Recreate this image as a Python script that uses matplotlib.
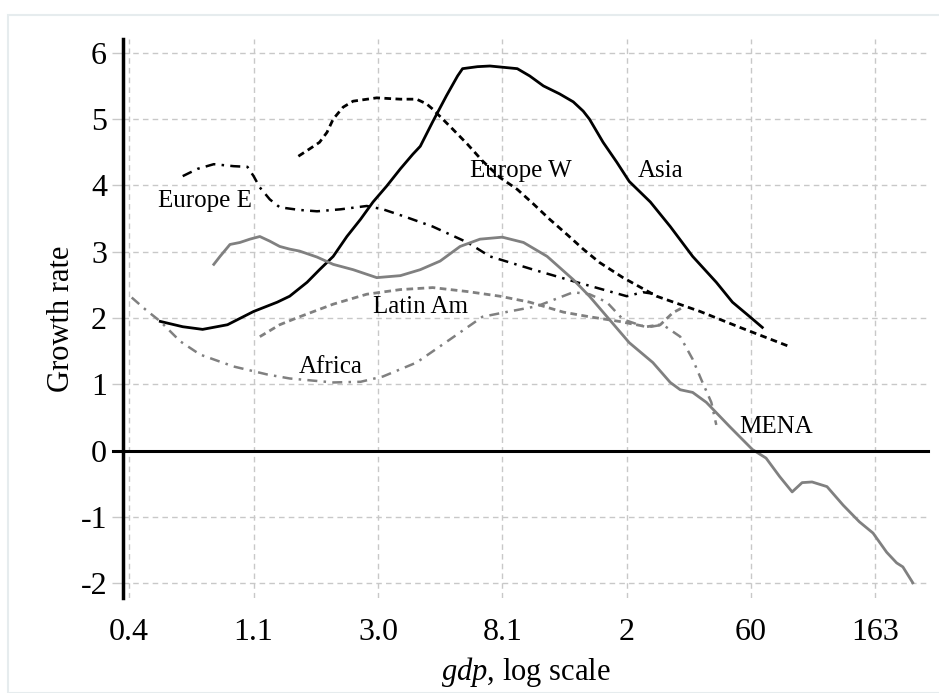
import matplotlib.pyplot as plt
from matplotlib.patches import Rectangle

# x is position on the log-gdp axis (one unit per tick), y is growth rate
asia_x = [0.25, 0.43, 0.59, 0.79, 1.00, 1.19, 1.29, 1.43, 1.53, 1.64, 1.75, 1.86,
          1.96, 2.07, 2.18, 2.28, 2.34, 2.44, 2.55, 2.64, 2.68, 2.80, 2.90, 3.12,
          3.22, 3.33, 3.46, 3.57, 3.65, 3.70, 3.81, 3.92, 4.02, 4.19, 4.35, 4.53,
          4.72, 4.85, 4.99, 5.09]
asia_y = [1.95, 1.87, 1.83, 1.90, 2.10, 2.24, 2.33, 2.54, 2.73, 2.93, 3.23, 3.49,
          3.75, 3.99, 4.25, 4.47, 4.59, 4.96, 5.35, 5.65, 5.76, 5.79, 5.80, 5.76,
          5.65, 5.50, 5.38, 5.26, 5.12, 5.00, 4.65, 4.35, 4.06, 3.75, 3.38, 2.93,
          2.54, 2.24, 2.02, 1.86]

eurw_x = [1.36, 1.45, 1.53, 1.59, 1.64, 1.72, 1.80, 1.99, 2.18, 2.31, 2.39, 2.44,
          2.52, 2.60, 2.72, 2.84, 2.98, 3.12, 3.25, 3.38, 3.52, 3.65, 3.78, 3.97,
          4.24, 4.59, 4.91, 5.31]
eurw_y = [4.44, 4.55, 4.65, 4.80, 5.00, 5.18, 5.27, 5.32, 5.30, 5.30, 5.23, 5.15,
          5.00, 4.85, 4.62, 4.37, 4.12, 3.94, 3.72, 3.49, 3.26, 3.04, 2.84, 2.61,
          2.33, 2.10, 1.86, 1.57]

eure_x = [0.43, 0.55, 0.68, 0.84, 0.95, 1.00, 1.05, 1.13, 1.21, 1.37, 1.51, 1.70,
          1.91, 2.04, 2.23, 2.44, 2.72, 2.90, 3.25, 3.60, 4.00, 4.13, 4.24]
eure_y = [4.14, 4.25, 4.32, 4.29, 4.28, 4.14, 3.97, 3.79, 3.67, 3.63, 3.61, 3.64,
          3.69, 3.64, 3.52, 3.38, 3.14, 2.93, 2.73, 2.54, 2.33, 2.39, 2.36]

mena_x = [0.68, 0.73, 0.81, 0.89, 0.97, 1.05, 1.13, 1.21, 1.29, 1.37, 1.51, 1.64,
          1.80, 1.99, 2.18, 2.34, 2.50, 2.66, 2.82, 3.00, 3.17, 3.36, 3.57, 3.70,
          3.86, 4.02, 4.21, 4.35, 4.43, 4.53, 4.64, 4.83, 5.01, 5.12, 5.23, 5.33,
          5.41, 5.49, 5.61, 5.74, 5.87, 5.98, 6.09, 6.17, 6.22, 6.30]
mena_y = [2.81, 2.93, 3.11, 3.14, 3.19, 3.23, 3.16, 3.08, 3.04, 3.01, 2.92, 2.81,
          2.73, 2.61, 2.64, 2.73, 2.86, 3.08, 3.19, 3.22, 3.14, 2.93, 2.58, 2.33,
          1.98, 1.63, 1.33, 1.03, 0.92, 0.88, 0.73, 0.36, 0.02, -0.11, -0.39, -0.62,
          -0.48, -0.47, -0.54, -0.82, -1.07, -1.24, -1.53, -1.69, -1.75, -1.99]

latam_x = [1.05, 1.21, 1.37, 1.64, 1.91, 2.18, 2.44, 2.72, 2.98, 3.22, 3.49, 3.70,
           3.94, 4.16, 4.27, 4.37, 4.45]
latam_y = [1.72, 1.90, 2.02, 2.21, 2.36, 2.43, 2.46, 2.40, 2.33, 2.24, 2.09, 2.02,
           1.95, 1.87, 1.90, 2.08, 2.16]

africa_x = [0.02, 0.13, 0.25, 0.41, 0.57, 0.84, 1.11, 1.29, 1.64, 1.86, 2.04, 2.31,
            2.58, 2.84, 3.00, 3.28, 3.57, 3.70, 3.84, 3.97, 4.16, 4.29, 4.43, 4.53,
            4.60, 4.68, 4.72]
africa_y = [2.31, 2.13, 1.95, 1.65, 1.45, 1.27, 1.15, 1.09, 1.03, 1.04, 1.12, 1.33,
            1.68, 2.02, 2.08, 2.18, 2.39, 2.36, 2.24, 1.98, 1.86, 1.90, 1.72, 1.38,
            1.07, 0.73, 0.39]

xtick_labels = ['0.4', '1.1', '3.0', '8.1', '2', '60', '163']
yticks = [-2, -1, 0, 1, 2, 3, 4, 5, 6]

labels = ['Asia', 'Europe W', 'Europe E', 'Latin Am', 'Africa', 'MENA']
label_x = [4.27, 3.15, 0.61, 2.34, 1.62, 5.20]
label_y = [4.21, 4.21, 3.76, 2.16, 1.27, 0.36]

plt.rcParams['font.family'] = ['Liberation Serif', 'DejaVu Serif']
plt.rcParams['axes.unicode_minus'] = False
plt.rcParams['mathtext.fontset'] = 'custom'
plt.rcParams['mathtext.rm'] = 'Liberation Serif'
plt.rcParams['mathtext.it'] = 'Liberation Serif:italic'

fig = plt.figure(figsize=(9.39, 6.93), dpi=100)
fig.patches.append(Rectangle((8/939, 0.0), 1.0, 1 - 15/693, transform=fig.transFigure,
                             fill=False, edgecolor='#e6ecee', lw=1.5))
ax = fig.add_axes([0.131, 0.137, 0.857, 0.807])

grey = '#808080'
ax.plot(asia_x, asia_y, color='black', lw=2.0)
ax.plot(eurw_x, eurw_y, color='black', lw=2.0, dashes=(2.4, 1.6))
ax.plot(eure_x, eure_y, color='black', lw=1.8, dashes=(4, 2.5, 1, 2.5))
ax.plot(mena_x, mena_y, color=grey, lw=2.0)
ax.plot(latam_x, latam_y, color=grey, lw=2.0, dashes=(2.4, 1.6))
ax.plot(africa_x, africa_y, color=grey, lw=1.8, dashes=(4, 2.5, 1, 2.5))

for t, x, y in zip(labels, label_x, label_y):
    ax.text(x, y, t, fontsize=18, ha='center', va='center')

ax.axhline(0, xmin=-0.012, color='black', lw=2.2, clip_on=False)

ax.set_xlim(-0.05, 6.42)
ax.set_ylim(-2.22, 6.21)
ax.set_xticks(range(len(xtick_labels)))
ax.set_xticklabels(xtick_labels)
ax.set_yticks(yticks)
ax.grid(True, color='#c8c8c8', ls=(0, (4, 3)), lw=1)
ax.tick_params(axis='both', labelsize=23, colors='#c8c8c8', labelcolor='black',
               length=8, width=1)
ax.tick_params(axis='x', length=0, pad=14)

for s in ['top', 'right', 'bottom']:
    ax.spines[s].set_visible(False)
ax.spines['left'].set_linewidth(2.5)

ax.set_xlabel('$\\it{gdp}$, log scale', fontsize=22, labelpad=6)
ax.set_ylabel('Growth rate', fontsize=22, labelpad=3)

fig.savefig('out.png', dpi=100)
